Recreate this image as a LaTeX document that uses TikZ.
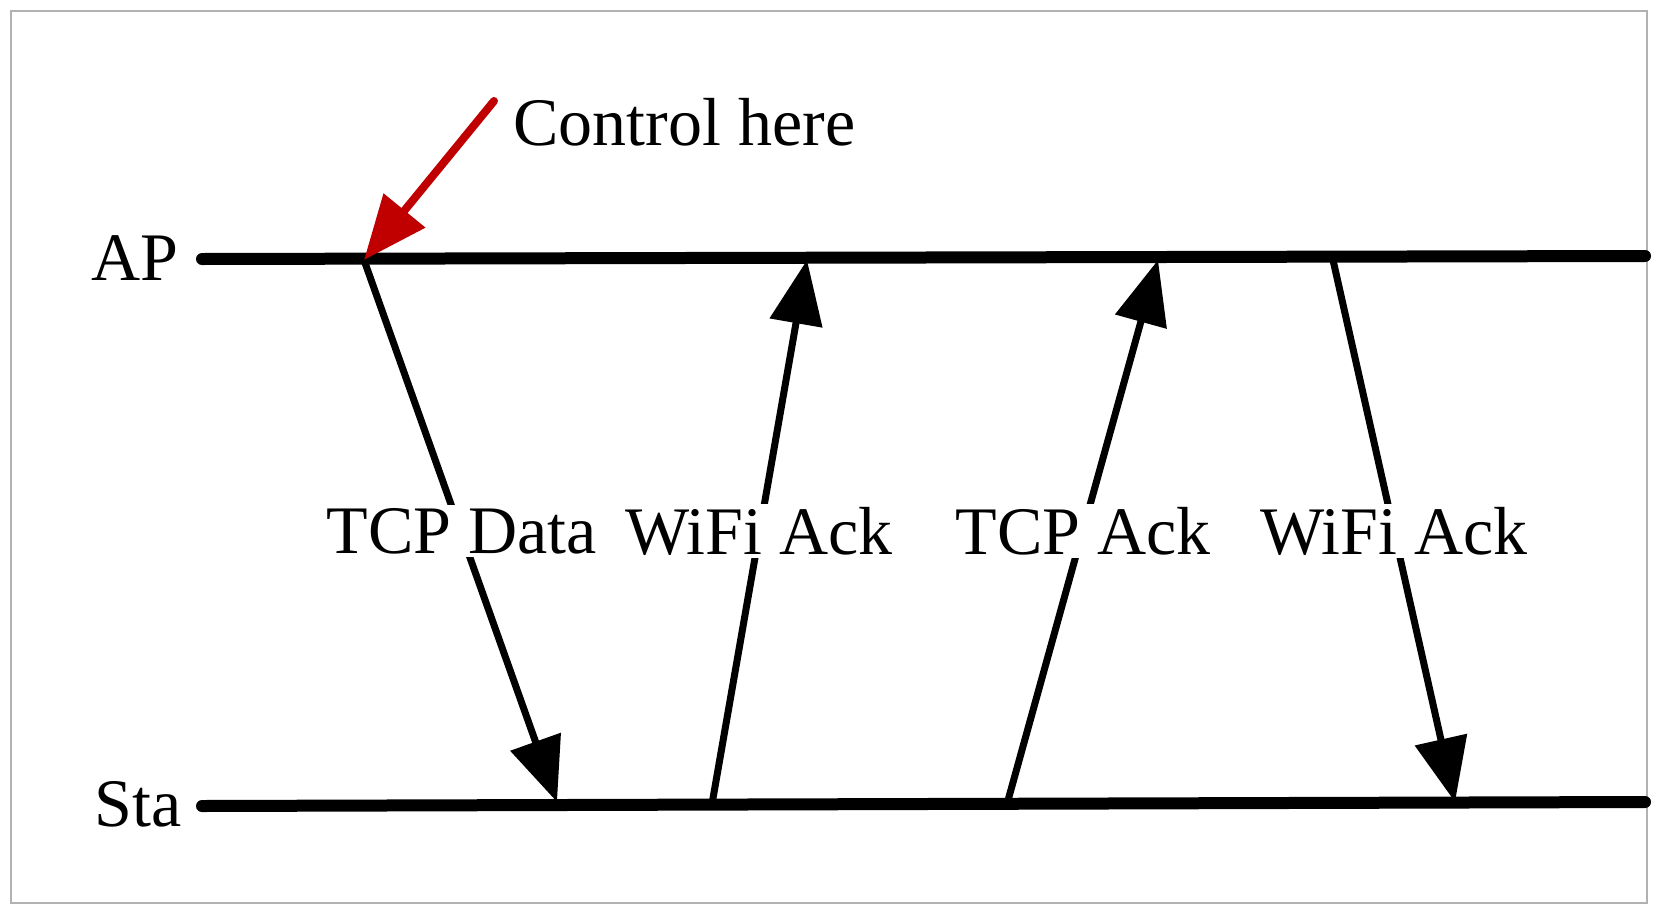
\documentclass[tikz,border=0pt]{standalone}
\usepackage{fontspec}
\setmainfont{Liberation Serif}
\usetikzlibrary{arrows.meta}
\definecolor{darkred}{HTML}{C00000}
\begin{document}
\begin{tikzpicture}[x=1pt,y=-1pt,
  tl/.style={line width=12pt,line cap=round},
  msg/.style={line width=7pt,-{Triangle[length=64pt,width=52pt]}},
  lab/.style={fill=white,inner sep=3pt,font=\fontsize{68}{70}\selectfont},
  side/.style={font=\fontsize{68}{70}\selectfont}]
\useasboundingbox (0,0) rectangle (1662,916);
\draw[gray!60,line width=1.5pt] (11,11) rectangle (1647,903);
\coordinate (apL) at (202,259); \coordinate (apR) at (1645,256);
\coordinate (stL) at (202,806); \coordinate (stR) at (1645,802);
\draw[tl] (apL) -- (apR);
\draw[tl] (stL) -- (stR);
\node[side,anchor=east] (ap) at (182,258) {AP};
\node[side,anchor=east] (sta) at (185,804) {Sta};
\coordinate (a1) at (364,260); \coordinate (b1) at (557,802);
\coordinate (a2) at (712,804); \coordinate (b2) at (807,260);
\coordinate (a3) at (1007,804); \coordinate (b3) at (1158,260);
\coordinate (a4) at (1333,260); \coordinate (b4) at (1455,802);
\draw[msg] (a1) -- (b1);
\draw[msg] (a2) -- (b2);
\draw[msg] (a3) -- (b3);
\draw[msg] (a4) -- (b4);
\node[lab] (l1) at (462,531) {TCP Data};
\node[lab] (l2) at (759,531) {WiFi Ack};
\node[lab] (l3) at (1083,531) {TCP Ack};
\node[lab] (l4) at (1394,531) {WiFi Ack};
\coordinate (r0) at (494,101);
\draw[darkred,line width=8pt,line cap=round,-{Triangle[length=64pt,width=52pt]}] (r0) -- (a1);
\node[side,anchor=west] (ctl) at (510,122) {Control here};
\end{tikzpicture}
\end{document}
